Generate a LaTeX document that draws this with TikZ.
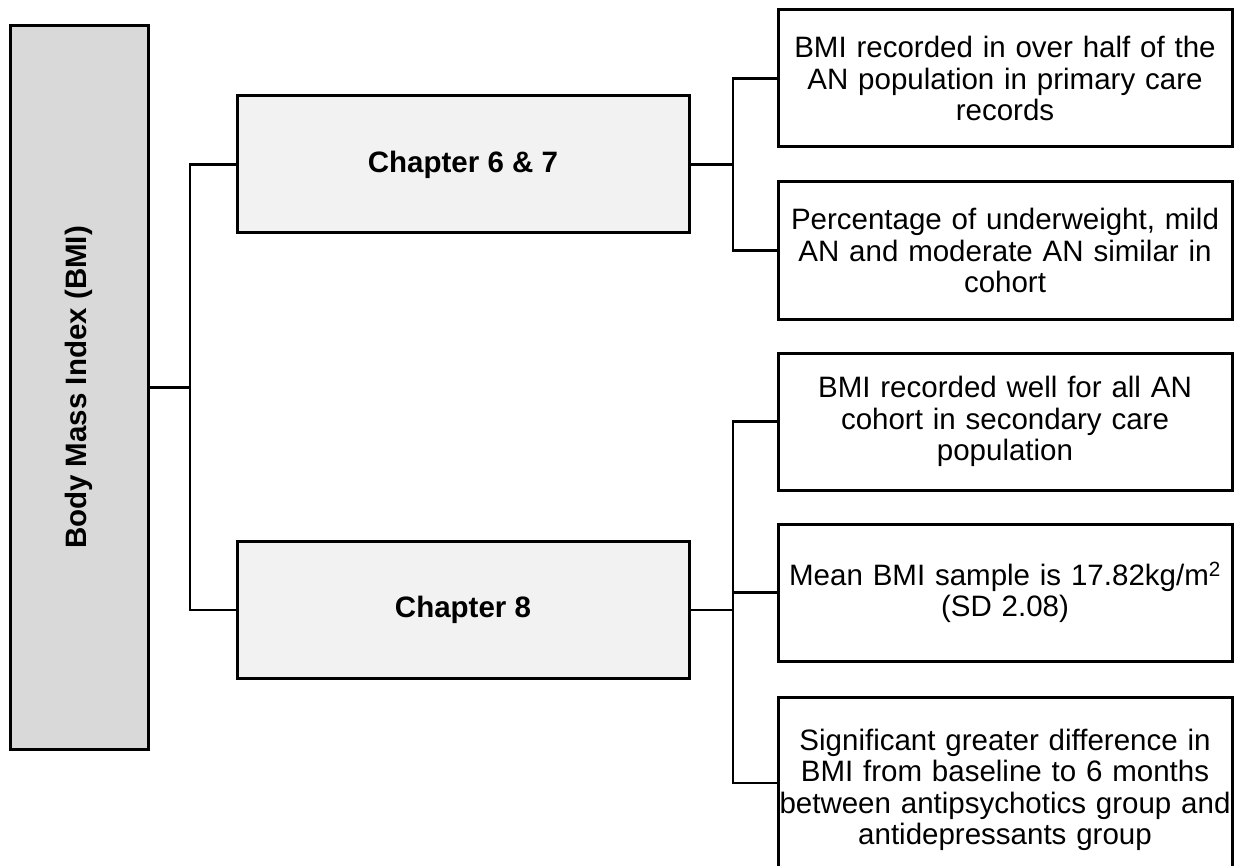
\documentclass[tikz,border=0pt]{standalone}
\usepackage{fontspec}
\setmainfont{Liberation Sans}
\definecolor{rootfill}{HTML}{D9D9D9}
\definecolor{chapfill}{HTML}{F2F2F2}
\tikzset{
  boxline/.style={draw=black, line width=3pt},
  rootbox/.style={boxline, fill=rootfill, minimum width=138pt, minimum height=723pt, inner sep=0pt},
  chapbox/.style={boxline, fill=chapfill, minimum width=452pt, minimum height=137pt, inner sep=0pt, font=\bfseries},
  findbox/.style={boxline, fill=white, minimum width=454pt, minimum height=137pt, inner xsep=0pt, text width=452pt, align=center},
  link/.style={line width=2.75pt, draw=black}
}
\begin{document}
\begin{tikzpicture}[x=1pt,y=-1pt]
\useasboundingbox (0,0) rectangle (1241,866);
\clip (0,0) rectangle (1241,866);
\fontsize{29.5}{31.5}\selectfont

% root
\node[rootbox] (root) at (79,387.5) {};
\node[rotate=90, font=\bfseries] (roottext) at (root.center) {Body Mass Index (BMI)};

% chapters
\node[chapbox] (ch67) at (463,164.5) {Chapter 6 \& 7};
\node[chapbox] (ch8) at (463,610) {Chapter 8};

% findings
\node[findbox] (f1) at (1005,78.5) {BMI recorded in over half of the\\AN population in primary care\\records};
\node[findbox] (f2) at (1005,250.5) {Percentage of underweight, mild\\AN and moderate AN similar in\\cohort};
\node[findbox] (f3) at (1005,421.5) {BMI recorded well for all AN\\cohort in secondary care\\population};
\node[findbox] (f4) at (1005,592.5) {Mean BMI sample is 17.82kg/m\textsuperscript{2}\\(SD 2.08)};
\node[findbox, minimum height=186pt] (f5) at (1005,790) {Significant greater difference in\\BMI from baseline to 6 months\\between antipsychotics group and\\antidepressants group};

% elbow connectors
\coordinate (j0) at (190,387.5);
\coordinate (j1) at (733,164.5);
\coordinate (j2) at (733,610);
\draw[link] (root.east) -- (j0);
\draw[link] (j0) |- (ch67.west);
\draw[link] (j0) |- (ch8.west);
\draw[link] (ch67.east) -- (j1);
\draw[link] (j1) |- (f1.west);
\draw[link] (j1) |- (f2.west);
\draw[link] (ch8.east) -- (j2);
\draw[link] (j2) |- (f3.west);
\draw[link] (j2) |- (f4.west);
\draw[link] (j2) |- ([yshift=7pt]f5.west);
\end{tikzpicture}
\end{document}
